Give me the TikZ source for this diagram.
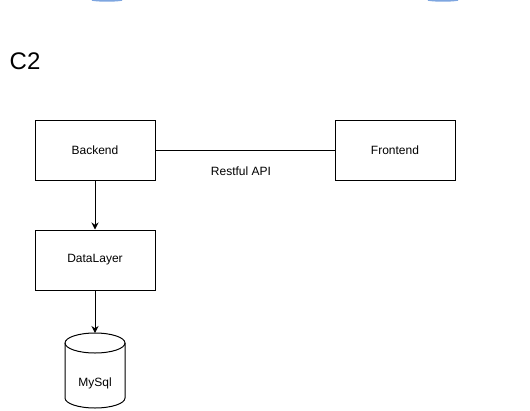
\documentclass[tikz,border=0pt]{standalone}
\usepackage{fontspec}
\setmainfont{Liberation Sans}
\usetikzlibrary{arrows.meta}
\definecolor{arcblue}{RGB}{126,166,224}
\tikzset{
  box/.style={draw, line width=1pt, minimum width=120pt, minimum height=60pt, inner sep=0pt, font=\fontsize{12}{14}\selectfont},
  lbl/.style={inner sep=0pt, font=\fontsize{12}{14}\selectfont},
  conn/.style={line width=1pt},
  arr/.style={conn, -{Stealth[length=7pt,width=7pt]}},
}
\begin{document}
\begin{tikzpicture}[x=1pt,y=-1pt]
\useasboundingbox (0,0) rectangle (530,410);
% cut-off shapes at the top edge
\draw[arcblue, line width=1.6pt] (92,0) .. controls (100,1.2) and (114,1.2) .. (122,0);
\draw[arcblue, line width=1.6pt] (428,0) .. controls (436,1.2) and (450,1.2) .. (458,0);
% title
\node[inner sep=0pt, anchor=base west, font=\fontsize{24}{28}\selectfont] (title) at (9.5,69.5) {C2};
% boxes
\node[box] (be) at (95,150) {Backend};
\node[box] (fe) at (395,150) {Frontend};
\node[box] (dl) at (95,260) {DataLayer};
\node[lbl] (api) at (241,171) {Restful API};
% database cylinder
\coordinate (dbtop) at (95,333);
\draw[line width=1pt, fill=white] (65,343) -- (65,398) arc[start angle=180, end angle=0, x radius=30, y radius=10] -- (125,343) arc[start angle=0, end angle=-180, x radius=30, y radius=10] -- cycle;
\draw[line width=1pt] (65,343) arc[start angle=180, end angle=0, x radius=30, y radius=10];
\node[lbl] (db) at (95,383) {MySql};
% connectors
\draw[conn] (be.east) -- (fe.west);
\draw[arr] (be.south) -- (dl.north);
\draw[arr] (dl.south) -- (dbtop);
\end{tikzpicture}
\end{document}
